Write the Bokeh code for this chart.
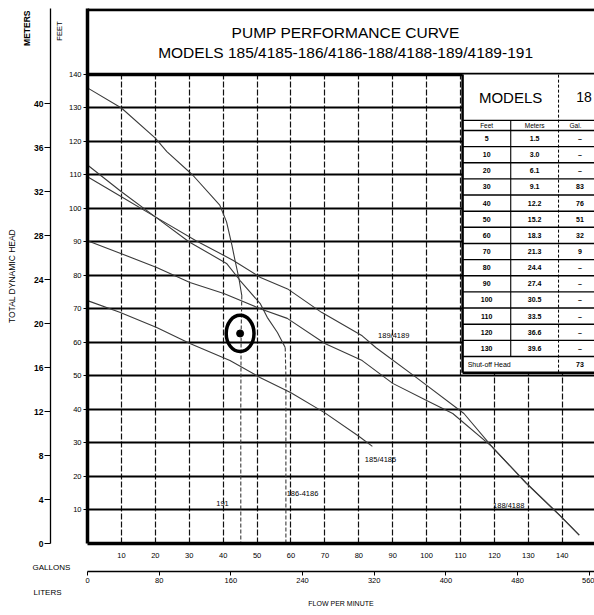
from bokeh.plotting import figure
from bokeh.models import LinearAxis, Range1d, FixedTicker, Title
from bokeh.core.properties import value
from bokeh.embed import file_html
from bokeh.resources import INLINE

FONT = "Liberation Sans"

# ---------------- data ----------------
gallon_ticks = [10, 20, 30, 40, 50, 60, 70, 80, 90, 100, 110, 120, 130, 140, 150]
liter_ticks = [0, 80, 160, 240, 320, 400, 480, 560]
feet_ticks = [10, 20, 30, 40, 50, 60, 70, 80, 90, 100, 110, 120, 130, 140]
meter_ticks = [0, 4, 8, 12, 16, 20, 24, 28, 32, 36, 40]

curve_191_gpm = [0, 10, 20, 23.4, 31, 39, 41, 42.6, 43.5, 44.6, 45.5]
curve_191_ft = [136, 130, 121, 117, 110, 101, 96, 89, 84.5, 79.4, 74]
curve_191_drop_gpm = [45.5, 45.3, 45.2, 45.2]
curve_191_drop_ft = [74, 62.7, 40, 0]

curve_186_gpm = [0, 10, 20, 30, 41, 45, 51, 53, 56, 58.3]
curve_186_ft = [113, 105, 97.5, 90, 83.6, 78.5, 71.5, 67.5, 63, 58.5]
curve_186_drop_gpm = [58.3, 58.5, 58.5]
curve_186_drop_ft = [58.5, 50, 0]

curve_189_gpm = [0, 10, 20, 32, 43, 51, 59, 69, 81, 85, 97, 111, 120, 129.3, 139.3, 145]
curve_189_ft = [109.5, 103.5, 97.5, 90.4, 84.5, 79.4, 76, 69, 62, 58.5, 49.5, 38.8, 28, 18.2, 8.4, 2.5]

curve_188_gpm = [0, 10, 20.4, 30.2, 40.2, 50.9, 58.9, 70, 81, 90, 100, 107.7, 119.5, 129.3, 139, 145]
curve_188_ft = [90.4, 86.5, 82.4, 77.9, 74.6, 70.1, 67.2, 59.7, 54.6, 47.8, 42.7, 38.8, 28.7, 18, 8.6, 2.5]

curve_185_gpm = [0, 9.5, 20.4, 30.2, 42, 51, 60, 70, 80, 84]
curve_185_ft = [72.5, 69, 64.5, 59.7, 54.6, 49.5, 45, 39, 32, 29]

marked_gpm = [45]
marked_ft = [62.7]

curve_label_text = ["191", "186-4186", "185/4185", "189/4189", "188/4188"]
curve_label_gpm = [39.8, 63.4, 86.4, 90.3, 124.2]
curve_label_ft = [11.9, 14.9, 25.1, 62.1, 11.3]

table_feet = ["5", "10", "20", "30", "40", "50", "60", "70", "80", "90", "100", "110", "120", "130"]
table_meters = ["1.5", "3.0", "6.1", "9.1", "12.2", "15.2", "18.3", "21.3", "24.4", "27.4", "30.5", "33.5", "36.6", "39.6"]
table_gal_185 = ["–", "–", "–", "83", "76", "51", "32", "9", "–", "–", "–", "–", "–", "–"]
shutoff_185 = "73"

title_1 = "PUMP PERFORMANCE CURVE"
title_2 = "MODELS 185/4185-186/4186-188/4188-189/4189-191"

# ---------------- layout ----------------
X_MAX = 149.5
FT_TOP = 159.7
FT_PER_M = 0.3048
GAL_TO_L = 3.785

p = figure(width=594, height=615, x_range=Range1d(0, X_MAX), y_range=Range1d(0, FT_TOP),
           output_backend="svg", toolbar_location=None,
           min_border_left=87, min_border_right=0, min_border_top=8, min_border_bottom=72)
p.outline_line_color = None
p.background_fill_color = "white"
p.border_fill_color = "white"

p.extra_y_ranges = {"m": Range1d(0, FT_TOP * FT_PER_M)}
p.extra_x_ranges = {"lpm": Range1d(0, X_MAX * GAL_TO_L)}

# grid
p.xgrid.ticker = FixedTicker(ticks=[0] + gallon_ticks)
p.xgrid.grid_line_color = "#111111"
p.xgrid.grid_line_width = 1.2
p.xgrid.grid_line_dash = "6 2"
p.ygrid.ticker = FixedTicker(ticks=[0] + feet_ticks)
p.ygrid.grid_line_color = "black"
p.ygrid.grid_line_width = 2.2


def side_title(txt, size, align, offset, standoff, style="normal"):
    return Title(text=txt, align=align, offset=offset, standoff=standoff, text_font=FONT,
                 text_font_size=size, text_font_style=style, text_color="black")


# feet axis (next to frame)
ya = p.yaxis[0]
ya.ticker = FixedTicker(ticks=feet_ticks)
ya.axis_line_width = 3.5
ya.axis_line_color = "black"
ya.major_tick_out = 4
ya.major_tick_in = 0
ya.minor_tick_out = 0
ya.minor_tick_in = 0
ya.major_label_standoff = 2
ya.major_label_text_font = FONT
ya.major_label_text_font_size = "7.5px"
ya.major_label_text_color = "black"

p.add_layout(side_title("FEET", "7.5px", "right", 13, 4), "left")

# meters axis
ma = LinearAxis(y_range_name="m", ticker=FixedTicker(ticks=meter_ticks))
ma.axis_line_width = 1.3
ma.major_tick_out = 6
ma.major_tick_in = 0
ma.minor_tick_out = 0
ma.minor_tick_in = 0
ma.major_label_standoff = 1
ma.major_label_text_font = FONT
ma.major_label_text_font_size = "8.5px"
ma.major_label_text_font_style = "bold"
ma.major_label_text_color = "black"
p.add_layout(ma, "left")

p.add_layout(side_title("METERS", "8.5px", "right", 2, 0, style="bold"), "left")
p.add_layout(side_title("TOTAL DYNAMIC HEAD", "8.5px", "center", 0, 6), "left")

# gallons axis (next to frame)
xa = p.xaxis[0]
xa.ticker = FixedTicker(ticks=gallon_ticks)
xa.axis_line_width = 3.5
xa.axis_line_color = "black"
xa.major_tick_out = 0
xa.major_tick_in = 0
xa.minor_tick_out = 0
xa.minor_tick_in = 0
xa.major_label_standoff = 9
xa.major_label_text_font = FONT
xa.major_label_text_font_size = "7.5px"
xa.major_label_text_color = "black"

p.add_layout(side_title("GALLONS", "8px", "left", -55, 0), "below")

# liters axis
la = LinearAxis(x_range_name="lpm", ticker=FixedTicker(ticks=liter_ticks))
la.axis_line_width = 1.5
la.major_tick_out = 4
la.major_tick_in = 0
la.minor_tick_out = 0
la.minor_tick_in = 0
la.major_label_standoff = 2
la.major_label_text_font = FONT
la.major_label_text_font_size = "7.5px"
la.major_label_text_color = "black"
p.add_layout(la, "below")

p.add_layout(side_title("LITERS", "8px", "left", -54, 0), "below")
p.add_layout(side_title("FLOW PER MINUTE", "7px", "center", 0, 2), "below")

# title box
p.quad(left=0, right=X_MAX, bottom=140, top=FT_TOP, fill_color="white", line_color=None)
p.segment(x0=0, y0=140, x1=X_MAX, y1=140, line_color="black", line_width=3.5)
p.segment(x0=0, y0=FT_TOP - 0.4, x1=X_MAX, y1=FT_TOP - 0.4, line_color="black", line_width=3)
p.text(x=[76.1], y=[152.5], text=[title_1], text_font=value(FONT), text_font_size="15.5px",
       text_align="center", text_baseline="middle", text_color="black")
p.text(x=[76.1], y=[146.6], text=[title_2], text_font=value(FONT), text_font_size="15.5px",
       text_align="center", text_baseline="middle", text_color="black")

# table
T_LEFT, T_DIV1, T_DIV2 = 110.6, 124.8, 138.9
T_TOP, T_MODELS_BOTTOM, T_HEAD_BOTTOM, T_BOTTOM = 140, 126.3, 123.3, 51.0
n_rows = len(table_feet) + 1
row_h = (T_HEAD_BOTTOM - T_BOTTOM) / n_rows
p.quad(left=T_LEFT, right=X_MAX, bottom=T_BOTTOM, top=T_TOP, fill_color="white", line_color=None)
row_lines = [T_MODELS_BOTTOM, T_HEAD_BOTTOM] + [T_HEAD_BOTTOM - row_h * (k + 1) for k in range(n_rows - 1)]
p.segment(x0=[T_LEFT] * len(row_lines), y0=row_lines, x1=[X_MAX] * len(row_lines), y1=row_lines,
          line_color="black", line_width=1.4)
p.segment(x0=[T_LEFT], y0=[T_BOTTOM], x1=[X_MAX], y1=[T_BOTTOM], line_color="black", line_width=2.5)
p.segment(x0=[T_LEFT], y0=[T_BOTTOM], x1=[T_LEFT], y1=[T_TOP], line_color="black", line_width=2.5)
p.segment(x0=[T_DIV1], y0=[T_BOTTOM + row_h], x1=[T_DIV1], y1=[T_MODELS_BOTTOM], line_color="black", line_width=1.1)
p.segment(x0=[T_DIV2], y0=[T_BOTTOM], x1=[T_DIV2], y1=[T_TOP], line_color="black", line_width=1, line_dash="3 2")

feet_c = (T_LEFT + T_DIV1) / 2
met_c = (T_DIV1 + T_DIV2) / 2
gal_c = T_DIV2 + 6.3
p.text(x=[(T_LEFT + T_DIV2) / 2], y=[(T_TOP + T_MODELS_BOTTOM) / 2], text=["MODELS"], text_font=value(FONT),
       text_font_size="15px", text_align="center", text_baseline="middle", text_color="black")
p.text(x=[T_DIV2 + 5.2], y=[(T_TOP + T_MODELS_BOTTOM) / 2], text=["18"], text_font=value(FONT),
       text_font_size="14px", text_align="left", text_baseline="middle", text_color="black")
head_y = (T_MODELS_BOTTOM + T_HEAD_BOTTOM) / 2
p.text(x=[feet_c, met_c, T_DIV2 + 5.0], y=[head_y] * 3, text=["Feet", "Meters", "Gal."], text_font=value(FONT),
       text_font_size="6.5px", text_align="center", text_baseline="middle", text_color="black")
row_y = [T_HEAD_BOTTOM - row_h * (k + 0.5) for k in range(len(table_feet))]
p.text(x=[feet_c] * len(row_y), y=row_y, text=table_feet, text_font=value(FONT), text_font_size="7px",
       text_font_style="bold", text_align="center", text_baseline="middle", text_color="black")
p.text(x=[met_c] * len(row_y), y=row_y, text=table_meters, text_font=value(FONT), text_font_size="7px",
       text_font_style="bold", text_align="center", text_baseline="middle", text_color="black")
p.text(x=[gal_c] * len(row_y), y=row_y, text=table_gal_185, text_font=value(FONT), text_font_size="7px",
       text_font_style="bold", text_align="center", text_baseline="middle", text_color="black")
shut_y = T_BOTTOM + row_h / 2
p.text(x=[T_LEFT + 1.5], y=[shut_y], text=["Shut-off Head"], text_font=value(FONT), text_font_size="7px",
       text_align="left", text_baseline="middle", text_color="black")
p.text(x=[gal_c], y=[shut_y], text=[shutoff_185], text_font=value(FONT), text_font_size="7px",
       text_font_style="bold", text_align="center", text_baseline="middle", text_color="black")

# curves
curve_style = dict(line_color="#3a3a3a", line_width=1.1)
p.line(curve_191_gpm, curve_191_ft, **curve_style)
p.line(curve_191_drop_gpm, curve_191_drop_ft, line_dash="4 2", **curve_style)
p.line(curve_186_gpm, curve_186_ft, **curve_style)
p.line(curve_186_drop_gpm, curve_186_drop_ft, line_dash="4 2", **curve_style)
p.line(curve_189_gpm, curve_189_ft, **curve_style)
p.line(curve_188_gpm, curve_188_ft, **curve_style)
p.line(curve_185_gpm, curve_185_ft, **curve_style)

p.text(x=curve_label_gpm, y=curve_label_ft, text=curve_label_text, text_font=value(FONT),
       text_font_size="7.5px", text_align="center", text_baseline="middle", text_color="black")

# marked operating point
p.ellipse(x=marked_gpm, y=marked_ft, width=8.2, height=10.8, fill_color=None, line_color="black", line_width=3.5)
p.scatter(x=marked_gpm, y=marked_ft, size=7, color="black")

open("out.html", "w").write(file_html(p, INLINE))
